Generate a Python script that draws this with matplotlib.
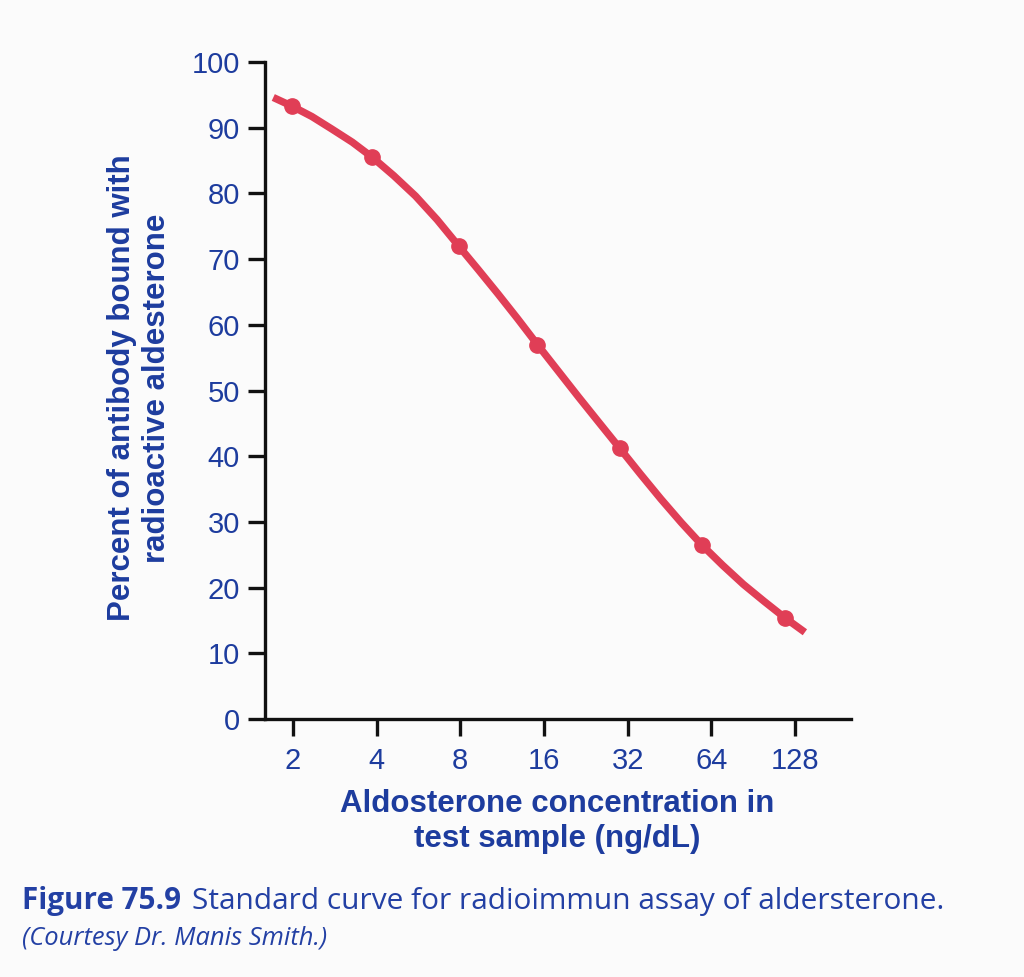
import numpy as np
import matplotlib.pyplot as plt
from matplotlib.ticker import FixedLocator, NullLocator

# measured standards (ng/dL, % bound)
conc = [1.98, 3.86, 7.89, 15.1, 30.0, 59.1, 117.6]
pct_bound = [93.3, 85.5, 72.0, 57.0, 41.2, 26.5, 15.4]

# fitted standard curve
curve_x = [1.70, 1.98, 2.34, 2.76, 3.27, 3.86, 4.61, 5.52, 6.60, 7.89,
           9.28, 10.93, 12.87, 15.14, 17.96, 21.30, 25.25, 29.96, 35.51,
           42.08, 49.84, 59.08, 70.20, 83.34, 99.03, 117.6, 138.7]
curve_y = [94.6, 93.3, 91.7, 89.8, 87.8, 85.5, 82.7, 79.6, 76.0, 72.0,
           68.4, 64.7, 60.9, 57.0, 53.0, 49.0, 45.1, 41.2, 37.3,
           33.5, 29.9, 26.5, 23.4, 20.5, 17.9, 15.4, 13.2]

xticks = [2, 4, 8, 16, 32, 64, 128]
yticks = [0, 10, 20, 30, 40, 50, 60, 70, 80, 90, 100]

blue = '#1d3c9e'
red = '#e03e56'
bg = '#fbfbfb'

plt.rcParams['font.family'] = ['Liberation Sans', 'DejaVu Sans']

fig = plt.figure(figsize=(10.24, 9.77), dpi=100, facecolor=bg)
ax = fig.add_axes([265 / 1024, 1 - 719 / 977, 586 / 1024, 657 / 977], facecolor=bg)

ax.plot(curve_x, curve_y, color=red, lw=5.3, solid_capstyle='butt',
        solid_joinstyle='round', zorder=2)
ax.plot(conc, pct_bound, 'o', color=red, ms=11, zorder=3)

ax.set_xscale('log', base=2)
ax.set_xlim(2 ** (2 / 3), 2 ** (7 + 2 / 3))
ax.set_ylim(0, 100)
ax.xaxis.set_major_locator(FixedLocator(xticks))
ax.xaxis.set_minor_locator(NullLocator())
ax.set_xticklabels([str(t) for t in xticks])
ax.set_yticks(yticks)

for s in ['top', 'right']:
    ax.spines[s].set_visible(False)
for s in ['left', 'bottom']:
    ax.spines[s].set_linewidth(2.4)
    ax.spines[s].set_color('#111111')
ax.spines['left'].set_bounds(0, 100)

ax.tick_params(axis='both', direction='out', length=12, width=2.4, color='#111111',
               labelsize=21, labelcolor=blue, pad=6)
ax.tick_params(axis='x', pad=8)

ax.set_xlabel('Aldosterone concentration in\ntest sample (ng/dL)', fontsize=22.5,
              fontweight='bold', color=blue, va='center')
ax.set_ylabel('Percent of antibody bound with\nradioactive aldesterone', fontsize=22.5,
              fontweight='bold', color=blue, va='center')
ax.xaxis.set_label_coords(0.498, -0.156)
ax.yaxis.set_label_coords(-0.214, 0.504)

# caption
cap_color = '#2340a4'
cap_font = ['Open Sans', 'DejaVu Sans']
t1 = fig.text(22 / 1024, 1 - 909 / 977, 'Figure 75.9', fontsize=21.3, fontweight='bold',
              color=cap_color, family=cap_font, va='baseline')
fig.canvas.draw()
bb = t1.get_window_extent(renderer=fig.canvas.get_renderer())
fig.text((bb.x1 + 11) / 1024, 1 - 909 / 977,
         'Standard curve for radioimmun assay of aldersterone.', fontsize=21.5,
         color=cap_color, family=cap_font, va='baseline')
fig.text(22 / 1024, 1 - 945 / 977, '(Courtesy Dr. Manis Smith.)', fontsize=18.4,
         style='italic', color=cap_color, family=cap_font, va='baseline')

fig.savefig('out.png', dpi=100, facecolor=bg)
